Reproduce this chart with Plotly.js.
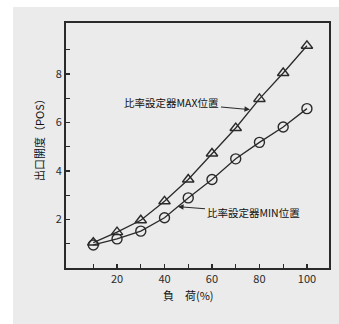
<!DOCTYPE html>
<html>
<head>
<meta charset="utf-8">
<script src="https://cdn.plot.ly/plotly-3.0.1.min.js"></script>
<style>
html,body{margin:0;padding:0;background:#ffffff;width:339px;height:324px;overflow:hidden;}
#chart{position:absolute;left:13px;top:7px;width:326px;height:317px;}
</style>
</head>
<body>
<div id="chart"></div>
<script>
const loads = [10, 20, 30, 40, 50, 60, 70, 80, 90, 100];
const maxPos = [1.05, 1.48, 1.97, 2.75, 3.65, 4.72, 5.77, 6.97, 8.04, 9.16];
const minPos = [0.95, 1.2, 1.52, 2.07, 2.89, 3.65, 4.5, 5.18, 5.81, 6.57];
const xTickVals = [10, 20, 30, 40, 50, 60, 70, 80, 90, 100];
const xTickText = ['', '20', '', '40', '', '60', '', '80', '', '100'];
const yTickVals = [1, 2, 3, 4, 5, 6, 7, 8, 9];
const yTickText = ['', '2', '', '4', '', '6', '', '8', ''];
const labelMax = '比率設定器MAX位置';
const labelMin = '比率設定器MIN位置';
const xTitle = '負　荷(%)';
const yTitle = '出口開度（POS）';

const ink = '#2a2a2a';
const bg = '#ebebeb';
const font = 'Noto Sans CJK JP, DejaVu Sans, sans-serif';

const traces = [
  {x: loads, y: maxPos, type: 'scatter', mode: 'lines+markers',
   line: {color: ink, width: 1.3},
   marker: {symbol: 'triangle-up-open', size: 10, color: ink, line: {width: 1.4, color: ink}}},
  {x: loads, y: minPos, type: 'scatter', mode: 'lines+markers',
   line: {color: ink, width: 1.3},
   marker: {symbol: 'circle-open', size: 10, color: ink, line: {width: 1.4, color: ink}}}
];

const layout = {
  width: 326, height: 317,
  margin: {l: 53, r: 10, t: 16, b: 56},
  paper_bgcolor: bg, plot_bgcolor: bg,
  showlegend: false,
  font: {family: font, color: ink, size: 11},
  xaxis: {
    range: [-1.5, 109.3], tickvals: xTickVals, ticktext: xTickText,
    ticks: 'inside', ticklen: 4, tickwidth: 1.2, tickcolor: ink,
    showline: true, linecolor: ink, linewidth: 2, mirror: true,
    showgrid: false, zeroline: false,
    tickfont: {size: 11, color: ink}
  },
  yaxis: {
    range: [0, 10.1], tickvals: yTickVals, ticktext: yTickText,
    ticks: 'inside', ticklen: 4, tickwidth: 1.2, tickcolor: ink,
    showline: true, linecolor: ink, linewidth: 2, mirror: true,
    showgrid: false, zeroline: false,
    tickfont: {size: 11, color: ink}
  },
  annotations: [
    {x: 76, y: 6.53, xref: 'x', yref: 'y', text: labelMax, showarrow: true,
     arrowhead: 2, arrowsize: 1, arrowwidth: 1.1, arrowcolor: ink,
     ax: -78, ay: -7, font: {size: 10.5, color: '#111'}},
    {x: 45.7, y: 2.53, xref: 'x', yref: 'y', text: labelMin, showarrow: true,
     arrowhead: 2, arrowsize: 1, arrowwidth: 1.1, arrowcolor: ink,
     ax: 75, ay: 6, font: {size: 10.5, color: '#111'}},
    {x: 0.464, y: 0, xref: 'paper', yref: 'paper', text: xTitle, showarrow: false,
     yshift: -27, yanchor: 'middle', xanchor: 'center', font: {size: 11, color: '#111'}},
    {x: 0, y: 0.535, xref: 'paper', yref: 'paper', text: yTitle, showarrow: false,
     textangle: -90, xshift: -27, xanchor: 'center', yanchor: 'middle', font: {size: 11, color: '#111'}}
  ]
};

Plotly.newPlot('chart', traces, layout, {displayModeBar: false, staticPlot: true});
</script>
</body>
</html>
